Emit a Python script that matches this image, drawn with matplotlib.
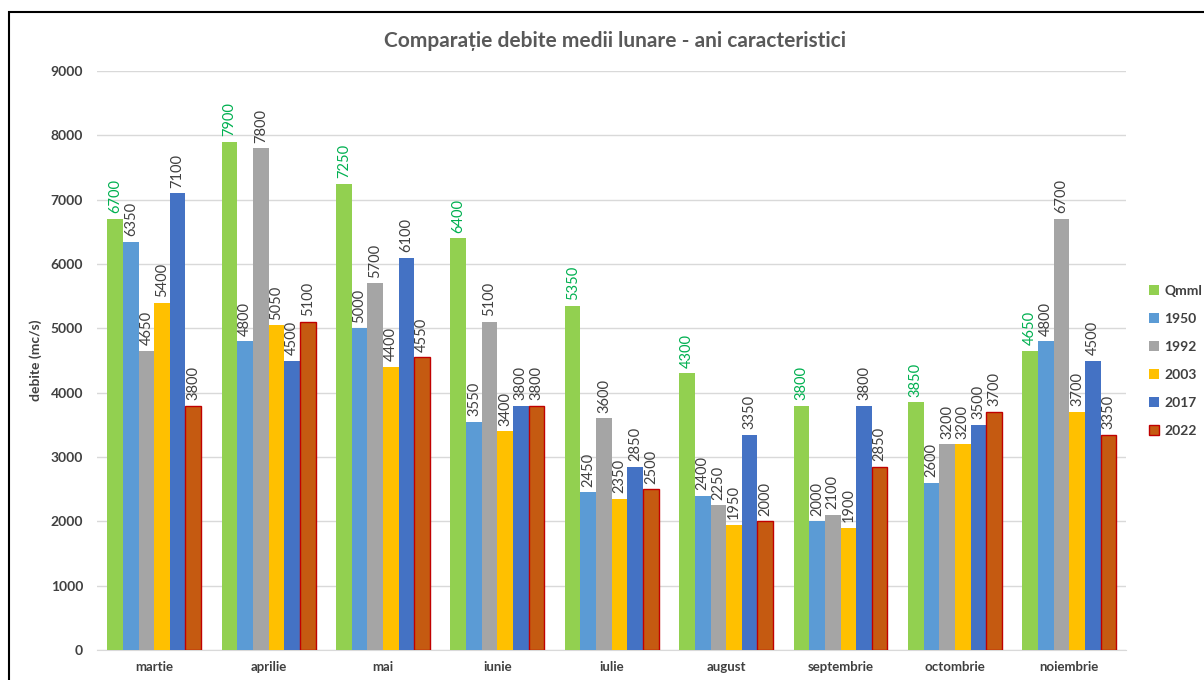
import numpy as np
import matplotlib
matplotlib.use("Agg")
import matplotlib.pyplot as plt
from matplotlib.patches import Rectangle

plt.rcParams["font.family"] = ["Lato", "DejaVu Sans"]

months = ["martie", "aprilie", "mai", "iunie", "iulie", "august",
          "septembrie", "octombrie", "noiembrie"]
series_names = ["Qmml", "1950", "1992", "2003", "2017", "2022"]
qmml = [6700, 7900, 7250, 6400, 5350, 4300, 3800, 3850, 4650]
y1950 = [6350, 4800, 5000, 3550, 2450, 2400, 2000, 2600, 4800]
y1992 = [4650, 7800, 5700, 5100, 3600, 2250, 2100, 3200, 6700]
y2003 = [5400, 5050, 4400, 3400, 2350, 1950, 1900, 3200, 3700]
y2017 = [7100, 4500, 6100, 3800, 2850, 3350, 3800, 3500, 4500]
y2022 = [3800, 5100, 4550, 3800, 2500, 2000, 2850, 3700, 3350]

colors = ["#92D050", "#5B9BD5", "#A5A5A5", "#FFC000", "#4472C4", "#C55A11"]
edges = ["none", "none", "none", "none", "none", "#C00000"]
label_colors = ["#00B050", "#404040", "#404040", "#404040", "#404040", "#404040"]

fig = plt.figure(figsize=(12.04, 6.8), dpi=100)
ax = fig.add_axes([0.0806, 0.044, 0.855, 0.8515])

x = np.arange(len(months))
n = len(series_names)
group_w = 0.82
bw = group_w / n
all_series = [qmml, y1950, y1992, y2003, y2017, y2022]
for i, (name, vals) in enumerate(zip(series_names, all_series)):
    pos = x - group_w / 2 + bw * (i + 0.5)
    bars = ax.bar(pos, vals, width=bw, color=colors[i], edgecolor=edges[i],
                  linewidth=1.0 if edges[i] != "none" else 0, label=name, zorder=3)
    for b, v in zip(bars, vals):
        ax.annotate(f"{v}", (b.get_x() + b.get_width() / 2, v),
                    xytext=(0, 4), textcoords="offset points", rotation=90,
                    ha="center", va="bottom", fontsize=10.5, color=label_colors[i])

ax.set_xlim(-0.5, len(months) - 0.5)
ax.set_ylim(0, 9000)
ax.set_yticks(np.arange(0, 9001, 1000))
ax.set_xticks(x)
ax.set_xticklabels(months, fontweight="bold", fontsize=9.5, color="#404040")
for lab in ax.get_yticklabels():
    lab.set_fontweight("bold")
ax.tick_params(axis="y", labelsize=10, colors="#404040", length=0, pad=10)
ax.tick_params(axis="x", length=0, pad=8)
ax.grid(axis="y", color="#D9D9D9", linewidth=1, zorder=0)
for s in ["top", "right", "left"]:
    ax.spines[s].set_visible(False)
ax.spines["bottom"].set_color("#D9D9D9")
ax.set_ylabel("debite (mc/s)", fontweight="bold", fontsize=10, color="#404040", labelpad=6)

fig.text(0.511, 0.94, "Comparație debite medii lunare - ani caracteristici",
         ha="center", va="center", fontsize=15, fontweight="bold", color="#595959")

ax.legend(loc="center left", bbox_to_anchor=(1.01, 0.5), frameon=False,
          prop={"weight": "bold", "size": 10}, labelcolor="#404040",
          handlelength=0.7, handleheight=0.7, handletextpad=0.4, labelspacing=1.15)

fig.patches.append(Rectangle((9 / 1204, -0.1), 1.2, 1 - 12 / 680 + 0.1,
                             transform=fig.transFigure, fill=False,
                             edgecolor="black", linewidth=1.5))

fig.savefig("out.png", dpi=100)
